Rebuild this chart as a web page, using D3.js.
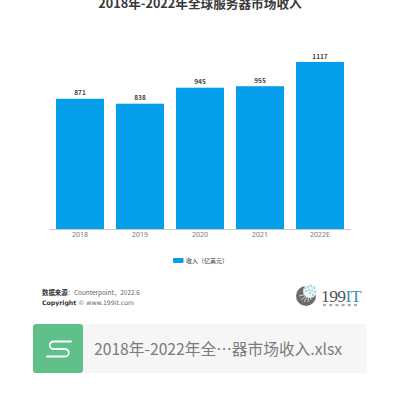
<!DOCTYPE html>
<html>
<head>
<meta charset="utf-8">
<script src="https://cdn.jsdelivr.net/npm/d3@7/dist/d3.min.js"></script>
<style>
html,body{margin:0;padding:0;background:#fff;}
svg{display:block;}
text{font-family:"Noto Sans CJK SC","Noto Sans",sans-serif;}
</style>
</head>
<body>
<svg id="chart" width="400" height="400"></svg>
<script>
const years = ["2018", "2019", "2020", "2021", "2022E"];
const revenue = [871, 838, 945, 955, 1117];
const chartTitle = "2018年-2022年全球服务器市场收入";
const legendLabel = "收入（亿美元）";
const sourceLabel = "数据来源";
const sourceText = "：Counterpoint，2022.6";
const copyrightLabel = "Copyright";
const copyrightText = " © www.199it.com";
const fileName = "2018年-2022年全…器市场收入.xlsx";

const svg = d3.select("#chart");
const x = d3.scaleBand().domain(years).range([50, 350]).paddingInner(0.2).paddingOuter(0.1);
const y = d3.scaleLinear().domain([0, 1117]).range([229, 62]);

// Title, cut off by the top edge of the page
svg.append("text").attr("x", 200).attr("y", 7.5).attr("text-anchor", "middle")
  .attr("font-size", 12.65).attr("font-weight", 700).attr("fill", "#3a3a3a").text(chartTitle);

// Bars and their value labels
svg.append("g").selectAll("rect").data(years).join("rect")
  .attr("x", d => x(d)).attr("width", x.bandwidth())
  .attr("y", (d, i) => y(revenue[i])).attr("height", (d, i) => y(0) - y(revenue[i]))
  .attr("fill", "#059eea");
svg.append("g").selectAll("text").data(years).join("text")
  .attr("x", d => x(d) + x.bandwidth() / 2).attr("y", (d, i) => y(revenue[i]) - 3.5)
  .attr("text-anchor", "middle").attr("font-size", 6.5).attr("font-weight", 700)
  .attr("fill", "#444").text((d, i) => revenue[i]);

// Category axis with ticks between the bars
const axis = svg.append("g").attr("transform", `translate(0,${y(0)})`)
  .call(d3.axisBottom(x).tickSize(0).tickPadding(3.5));
axis.select(".domain").attr("stroke", "#c4bdb8").attr("stroke-width", 0.8);
axis.selectAll("text").attr("font-size", 7).attr("fill", "#777")
  .style("font-family", '"Noto Sans",sans-serif');
axis.selectAll(".sep").data(d3.range(years.length + 1)).join("line").attr("class", "sep")
  .attr("x1", i => x.range()[0] + i * x.step()).attr("x2", i => x.range()[0] + i * x.step())
  .attr("y1", 0).attr("y2", 1.5).attr("stroke", "#c4bdb8").attr("stroke-width", 0.8);

// Legend
svg.append("rect").attr("x", 173).attr("y", 258).attr("width", 10.5).attr("height", 5)
  .attr("rx", 1).attr("fill", "#059eea");
svg.append("text").attr("x", 186).attr("y", 263).attr("font-size", 6).attr("font-weight", 500)
  .attr("fill", "#555").text(legendLabel);

// Source and copyright lines
const source = svg.append("text").attr("x", 42).attr("y", 295).attr("font-size", 6.4).attr("fill", "#666");
source.append("tspan").attr("font-weight", 700).attr("fill", "#333").text(sourceLabel);
source.append("tspan").text(sourceText);
const copyright = svg.append("text").attr("x", 42).attr("y", 305).attr("font-size", 6.2)
  .attr("fill", "#666").style("font-family", '"DejaVu Sans",sans-serif');
copyright.append("tspan").attr("font-weight", 700).attr("fill", "#333").text(copyrightLabel);
copyright.append("tspan").text(copyrightText);

// 199IT brand mark: a dark globe with a scatter of blue dots
const logo = svg.append("g");
logo.append("circle").attr("cx", 306).attr("cy", 296).attr("r", 10).attr("fill", "#6b6b6b");
[[-7, 0], [-5, 4], [-2, 6], [2, 6], [5, 4]].forEach(([dx, dy]) => {
  logo.append("path").attr("d", `M${306 + dx},${296 + dy}Q${306 + dx / 2 + 2},${296 + dy / 2 - 1} 308,293`)
    .attr("fill", "none").attr("stroke", "#eee").attr("stroke-width", 0.8);
});
logo.append("circle").attr("cx", 310).attr("cy", 291).attr("r", 7).attr("fill", "#eaf3f6");
[[305, 288], [308, 287], [311, 286], [314, 288], [309, 290], [312, 291], [315, 292], [310, 293], [313, 295], [306, 291], [315, 296]]
  .forEach(([cx, cy]) => logo.append("circle").attr("cx", cx).attr("cy", cy).attr("r", 0.8).attr("fill", "#6fb3c8"));
const brand = svg.append("text").attr("x", 321).attr("y", 302).attr("font-size", 17.5)
  .style("font-family", '"Liberation Serif",serif').attr("letter-spacing", -0.6).attr("fill", "#555");
brand.append("tspan").text("199");
brand.append("tspan").attr("fill", "#3f8fb5").text("IT");
svg.append("g").selectAll("rect").data(d3.range(6)).join("rect")
  .attr("x", i => 323 + i * 6.2).attr("y", 304).attr("width", 3).attr("height", 2.2).attr("fill", "#aaa");

// Attachment card with the spreadsheet icon and file name
svg.append("rect").attr("x", 33).attr("y", 324).attr("width", 334).attr("height", 49).attr("rx", 2).attr("fill", "#f6f6f6");
svg.append("rect").attr("x", 33).attr("y", 324).attr("width", 50).attr("height", 49).attr("rx", 3).attr("fill", "#5fc08a");
svg.append("path").attr("d", "M71,341.5H53.5a3.7,3.7 0 0 0 0,7.5H65a3.7,3.7 0 0 1 0,7.5H47")
  .attr("fill", "none").attr("stroke", "#fff").attr("stroke-width", 1.8).attr("stroke-linecap", "round");
svg.append("text").attr("x", 94).attr("y", 355).attr("font-size", 15.7).attr("fill", "#7b7b7b").text(fileName);
</script>
</body>
</html>
